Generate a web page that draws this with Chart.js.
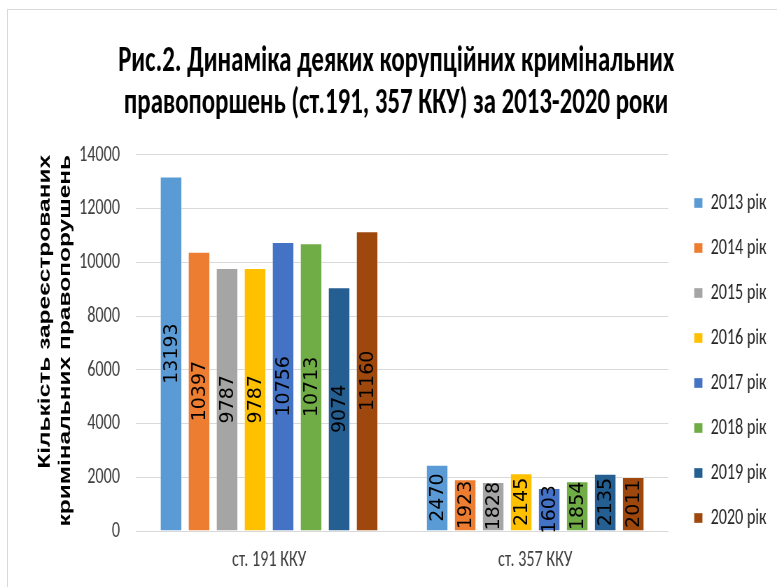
<!DOCTYPE html>
<html>
<head>
<meta charset="utf-8">
<script src="https://cdn.jsdelivr.net/npm/chart.js@4.4.0/dist/chart.umd.min.js"></script>
<style>
  html, body { margin: 0; padding: 0; background: #fff; overflow: hidden; width: 777px; height: 587px; }
  /* діаграму малюємо ширшою і стискаємо по горизонталі, як на оригінальному зображенні */
  #wrap { position: absolute; left: 0; top: 0; width: 1110px; height: 587px; transform: scaleX(0.7); transform-origin: 0 0; }
  #frame { position: absolute; left: 7px; top: 9px; width: 800px; height: 600px; border: 1px solid #d9d9d9; pointer-events: none; }
</style>
</head>
<body>
<div id="wrap">
  <canvas id="chart" width="1110" height="587"></canvas>
</div>
<div id="frame"></div>
<script>
// Дані діаграми
const categories = ["ст. 191 ККУ", "ст. 357 ККУ"]
const years = ["2013 рік", "2014 рік", "2015 рік", "2016 рік", "2017 рік", "2018 рік", "2019 рік", "2020 рік"]
const values191 = [13193, 10397, 9787, 9787, 10756, 10713, 9074, 11160]
const values357 = [2470, 1923, 1828, 2145, 1603, 1854, 2135, 2011]
const colors = ["#5b9bd5", "#ed7d31", "#a5a5a5", "#ffc000", "#4472c4", "#70ad47", "#255e91", "#9e480e"]
const yTicks = [0, 2000, 4000, 6000, 8000, 10000, 12000, 14000]

const SX = 0.7
const calibri = "Carlito, Calibri, sans-serif"

// Підписи значень всередині стовпців (вертикально)
const barLabels = {
  id: "barLabels",
  afterDatasetsDraw(chart) {
    const ctx = chart.ctx
    ctx.save()
    ctx.font = "19px 'DejaVu Sans', Verdana, sans-serif"
    ctx.fillStyle = "#000"
    ctx.textAlign = "center"
    ctx.textBaseline = "middle"
    chart.data.datasets.forEach((ds, i) => {
      const meta = chart.getDatasetMeta(i)
      meta.data.forEach((bar, j) => {
        const cy = (bar.y + bar.base) / 2
        ctx.save()
        ctx.translate(bar.x, cy)
        ctx.scale(1 / SX, 1) // цифри не стискаються
        ctx.rotate(-Math.PI / 2)
        ctx.fillText(String(ds.data[j]), 0, 1)
        ctx.restore()
      })
    })
    ctx.restore()
  },
}

const datasets = years.map((y, i) => ({
  label: y,
  data: [values191[i], values357[i]],
  backgroundColor: colors[i],
  borderColor: "rgba(255, 255, 255, 0.35)",
  borderWidth: 1,
  barPercentage: 0.785,
  categoryPercentage: 0.842,
}))

new Chart(document.getElementById("chart"), {
  type: "bar",
  data: { labels: categories, datasets },
  plugins: [barLabels],
  options: {
    responsive: false,
    animation: false,
    layout: { padding: { left: 27, right: 5, bottom: 13, top: 0 } },
    plugins: {
      title: {
        display: true,
        text: ["Рис.2. Динаміка деяких корупційних кримінальних", "правопоршень (ст.191, 357 ККУ) за 2013-2020 роки"],
        font: { family: calibri, size: 35.5, weight: "bold", lineHeight: 1.16 },
        color: "#000",
        padding: { top: 42, bottom: 30.5 },
      },
      legend: {
        position: "right",
        // порожній заголовок легенди опускає її елементи нижче
        title: { display: true, text: "", font: { size: 10, lineHeight: 1 }, padding: { top: 137, bottom: 0 } },
        labels: {
          boxWidth: 12,
          boxHeight: 10,
          padding: 22,
          font: { family: calibri, size: 23 },
          color: "#262626",
        },
      },
      tooltip: { enabled: false },
    },
    scales: {
      x: {
        grid: { display: false, drawTicks: false },
        border: { color: "#d9d9d9" },
        ticks: { font: { family: calibri, size: 23 }, color: "#404040", padding: 15 },
        afterFit: (axis) => {
          axis.height = 43
        },
      },
      y: {
        min: 0,
        max: 14000,
        afterBuildTicks: (axis) => {
          axis.ticks = yTicks.map((v) => ({ value: v }))
        },
        grid: { color: "#d9d9d9", drawTicks: false },
        border: { display: false },
        ticks: {
          font: { family: calibri, size: 23 },
          color: "#404040",
          padding: 23,
          callback: (v) => String(v),
        },
        title: {
          display: true,
          align: "end",
          text: ["Кількість зареєстрованих", "кримінальних правопорушень"],
          font: { family: "'Liberation Sans', Arial, sans-serif", size: 24.5, weight: "bold", lineHeight: 1.17 },
          color: "#000",
          padding: { top: 23, bottom: 6 },
        },
        afterFit: (axis) => {
          axis.width = 167.3
        },
      },
      // порожня вісь праворуч: відступ між областю графіка і легендою
      gap: {
        position: "right",
        display: true,
        grid: { display: false, drawTicks: false },
        border: { display: false },
        ticks: { display: false },
        afterFit: (axis) => {
          axis.width = 15
        },
      },
    },
  },
})
</script>
</body>
</html>
